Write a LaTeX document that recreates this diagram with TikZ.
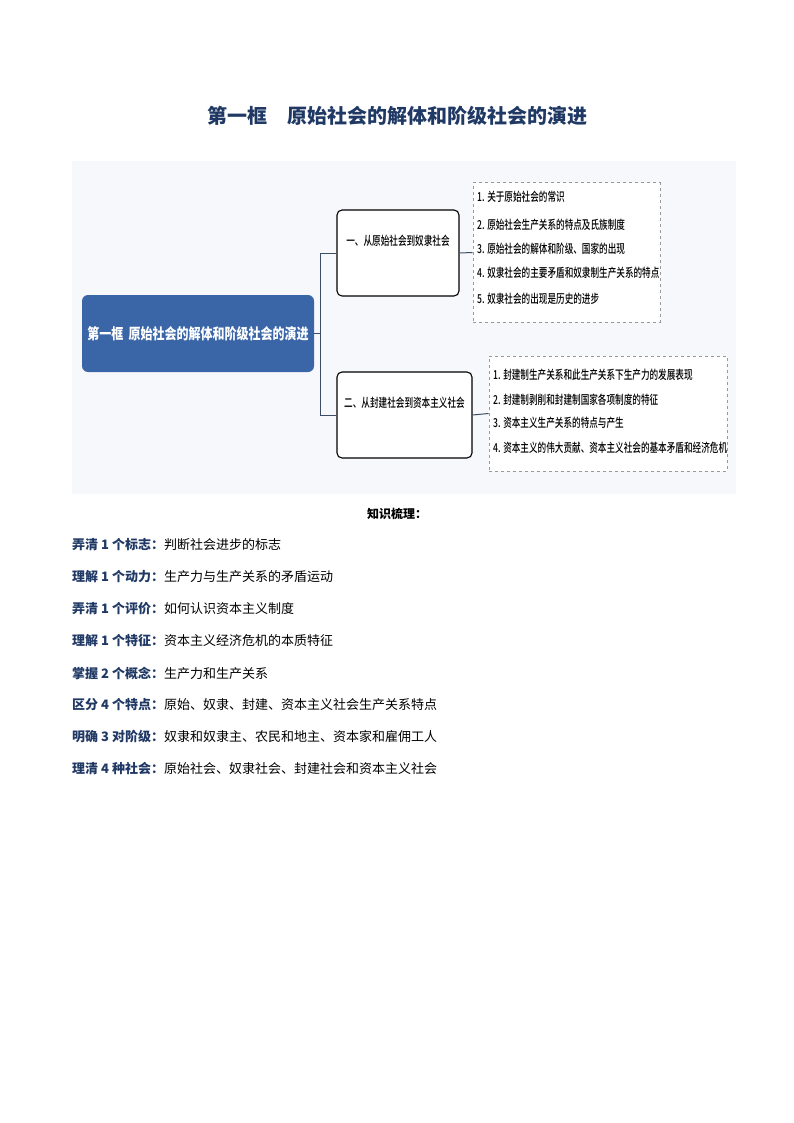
\documentclass[tikz,border=0pt]{standalone}
\usepackage{fontspec}
\setmainfont{Noto Sans CJK SC}
\newfontfamily\cjk{Noto Sans CJK SC}
\newfontfamily\cond[FakeStretch=0.8]{Noto Sans CJK SC}
\newfontfamily\condn[FakeStretch=0.7]{Noto Sans CJK SC Medium}
\usetikzlibrary{positioning}
\definecolor{navy}{HTML}{1F3864}
\definecolor{mainblue}{HTML}{3A66A8}
\definecolor{panel}{HTML}{F6F8FB}
\definecolor{conn}{HTML}{3C4E66}
\tikzset{
  sub/.style={draw=black,line width=1.1pt,rounded corners=5pt,fill=white,align=center,inner sep=0pt},
  dbox/.style={draw=gray!80,dashed,line width=1pt,fill=white},
  item/.style={anchor=west,font=\condn\fontsize{12.3}{13}\selectfont,inner sep=0pt},
  body/.style={anchor=west,font=\cjk\fontsize{13}{14}\selectfont,inner sep=0pt},
  conline/.style={draw=conn,line width=1pt}
}
\begin{document}
\begin{tikzpicture}[x=1pt,y=-1pt]
\useasboundingbox (0,0) rectangle (794,1123);
\node[font=\cjk\bfseries\fontsize{20}{22}\selectfont,text=navy] (title) at (397,116) {第一框\quad 原始社会的解体和阶级社会的演进};
\fill[panel] (72,161) rectangle (736,494);
\node[fill=mainblue,rounded corners=6pt,minimum width=232pt,minimum height=77pt,text=white,font=\cond\bfseries\fontsize{15}{16}\selectfont,inner sep=0pt] (main) at (198,333.5) {第一框\, 原始社会的解体和阶级社会的演进};
\node[sub,minimum width=122pt,minimum height=86pt] (b1) at (398,253) {};
\node[font=\condn\fontsize{12.3}{13}\selectfont,inner sep=0pt] (b1t) at (398,241) {一、从原始社会到奴隶社会};
\node[sub,minimum width=135pt,minimum height=86pt] (b2) at (404.5,415) {};
\node[font=\condn\fontsize{12.3}{13}\selectfont,inner sep=0pt] (b2t) at (404.5,403) {二、从封建社会到资本主义社会};
\coordinate (j) at (320,333.5);
\draw[conline] (main.east) -- (j);
\draw[conline] (j) |- (b1.west);
\draw[conline] (j) |- (b2.west);
\node[dbox,minimum width=187pt,minimum height=139pt] (d1) at (566.5,252.5) {};
\node[dbox,minimum width=238pt,minimum height=115pt] (d2) at (608,413.5) {};
\draw[conline] (b1.east) -- (d1.west);
\draw[conline] (b2.east) -- (d2.west);
\node[item] (i11) at (477,197) {1. 关于原始社会的常识};
\node[item] (i12) at (477,225) {2. 原始社会生产关系的特点及氏族制度};
\node[item] (i13) at (477,249) {3. 原始社会的解体和阶级、国家的出现};
\node[item] (i14) at (477,273) {4. 奴隶社会的主要矛盾和奴隶制生产关系的特点};
\node[item] (i15) at (477,299) {5. 奴隶社会的出现是历史的进步};
\node[item] (i21) at (493,375) {1. 封建制生产关系和此生产关系下生产力的发展表现};
\node[item] (i22) at (493,400) {2. 封建制剥削和封建制国家各项制度的特征};
\node[item] (i23) at (493,423) {3. 资本主义生产关系的特点与产生};
\node[item] (i24) at (493,448) {4. 资本主义的伟大贡献、资本主义社会的基本矛盾和经济危机};
\node[font=\cjk\bfseries\fontsize{12}{13}\selectfont] (zs) at (397,514) {知识梳理：};
\newcommand{\pre}[1]{{\bfseries\color{navy}#1}}
\node[body] (l1) at (72,545) {\pre{弄清 1 个标志：}判断社会进步的标志};
\node[body] (l2) at (72,577) {\pre{理解 1 个动力：}生产力与生产关系的矛盾运动};
\node[body] (l3) at (72,609) {\pre{弄清 1 个评价：}如何认识资本主义制度};
\node[body] (l4) at (72,641) {\pre{理解 1 个特征：}资本主义经济危机的本质特征};
\node[body] (l5) at (72,673) {\pre{掌握 2 个概念：}生产力和生产关系};
\node[body] (l6) at (72,705) {\pre{区分 4 个特点：}原始、奴隶、封建、资本主义社会生产关系特点};
\node[body] (l7) at (72,737) {\pre{明确 3 对阶级：}奴隶和奴隶主、农民和地主、资本家和雇佣工人};
\node[body] (l8) at (72,769) {\pre{理清 4 种社会：}原始社会、奴隶社会、封建社会和资本主义社会};
\end{tikzpicture}
\end{document}
